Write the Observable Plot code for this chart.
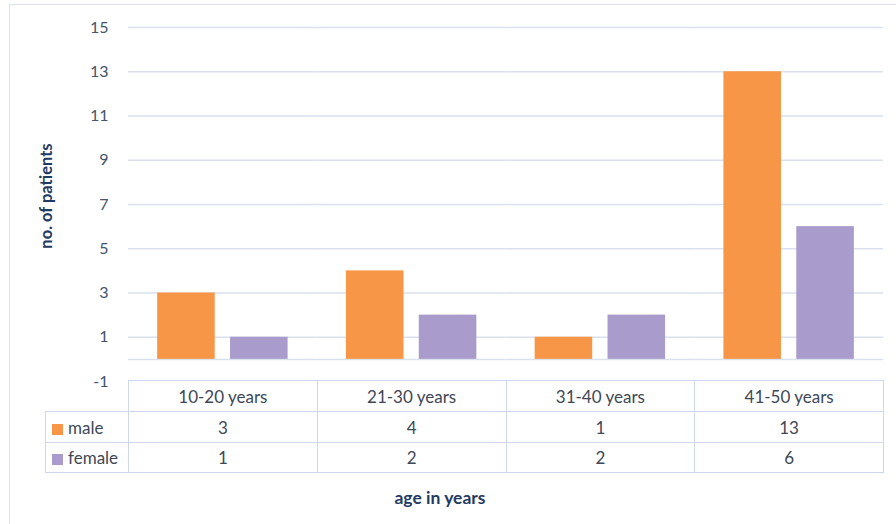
<!DOCTYPE html>
<html>
<head>
<meta charset="utf-8">
<script src="https://cdn.jsdelivr.net/npm/d3@7"></script>
<script src="https://cdn.jsdelivr.net/npm/@observablehq/plot@0.6"></script>
<style>
  html, body { margin: 0; padding: 0; background: #fff; }
  #wrap { position: relative; width: 896px; height: 524px; overflow: hidden; background: #fff; font-family: Lato, "Liberation Sans", sans-serif; }
  #frame { position: absolute; left: 9px; top: 4px; width: 1000px; height: 1000px; border: 1.5px solid #dbe3ee; box-sizing: border-box; }
  #plot { position: absolute; left: 0; top: 0; }
  #ylabel { position: absolute; left: 46px; top: 196px; transform: translate(-50%, -50%) rotate(-90deg); white-space: nowrap; font-weight: bold; font-size: 16.5px; color: #1f3a63; }
  #xlabel { position: absolute; left: 440px; top: 497px; transform: translate(-50%, -50%); white-space: nowrap; font-weight: bold; font-size: 17.5px; color: #1f3a63; }
  #table { position: absolute; left: 45px; top: 380px; border-collapse: collapse; table-layout: fixed; font-size: 17px; color: #3e4756; }
  #table td { border: 1px solid #cdd8ea; text-align: center; padding: 0; }
  #table td.lbl { text-align: left; padding-left: 6px; }
  #table td.blank { border-top: none; border-left: none; }
  .sw { display: inline-block; width: 11px; height: 11px; margin-right: 5px; vertical-align: -1px; }
</style>
</head>
<body>
<div id="wrap">
  <div id="frame"></div>
  <div id="plot"></div>
  <div id="ylabel"></div>
  <table id="table"></table>
  <div id="xlabel"></div>
</div>
<script>
const categories = ["10-20 years", "21-30 years", "31-40 years", "41-50 years"];
const series = ["male", "female"];
const maleValues = [3, 4, 1, 13];
const femaleValues = [1, 2, 2, 6];
const yTicks = [-1, 1, 3, 5, 7, 9, 11, 13, 15];
const colors = ["#F79646", "#A99BCB"];
const yTitle = "no. of patients";
const xTitle = "age in years";

const seriesValues = {male: maleValues, female: femaleValues};
const data = categories.flatMap((c, i) => series.map(s => ({cat: c, sex: s, value: seriesValues[s][i]})));

const chart = Plot.plot({
  width: 896,
  height: 524,
  marginLeft: 128,
  marginRight: 13,
  marginTop: 27,
  marginBottom: 143,
  style: {fontFamily: "Lato, 'Liberation Sans', sans-serif", fontSize: "16px", color: "#44546a", background: "transparent"},
  fx: {domain: categories, axis: null, paddingInner: 0, paddingOuter: 0, label: null, round: false},
  x: {domain: series, axis: null, paddingInner: 0.21, paddingOuter: 0.4, round: false},
  y: {domain: [-1, 15], ticks: yTicks, tickSize: 0, tickPadding: 20, label: null, tickFormat: d => `${d}`},
  color: {domain: series, range: colors},
  marks: [
    Plot.ruleY(yTicks.filter(d => d > -1), {stroke: "#d9e1ee", strokeWidth: 1.5}),
    Plot.ruleY([0], {stroke: "#d9e1ee", strokeWidth: 1.5}),
    Plot.barY(data, {fx: "cat", x: "sex", y: "value", fill: "sex"})
  ]
});
document.getElementById("plot").appendChild(chart);

document.getElementById("ylabel").textContent = yTitle;
document.getElementById("xlabel").textContent = xTitle;

// data table
const table = document.getElementById("table");
const colgroup = document.createElement("colgroup");
[83, ...categories.map(() => 188.75)].forEach(w => {
  const col = document.createElement("col");
  col.style.width = w + "px";
  colgroup.appendChild(col);
});
table.appendChild(colgroup);
const head = document.createElement("tr");
head.style.height = "31px";
const blank = document.createElement("td");
blank.className = "blank";
head.appendChild(blank);
categories.forEach(c => { const td = document.createElement("td"); td.textContent = c; head.appendChild(td); });
table.appendChild(head);
series.forEach((s, si) => {
  const tr = document.createElement("tr");
  tr.style.height = si === 0 ? "31px" : "30px";
  const lbl = document.createElement("td");
  lbl.className = "lbl";
  const sw = document.createElement("span");
  sw.className = "sw";
  sw.style.background = colors[si];
  lbl.appendChild(sw);
  lbl.appendChild(document.createTextNode(s));
  tr.appendChild(lbl);
  seriesValues[s].forEach(v => { const td = document.createElement("td"); td.textContent = v; tr.appendChild(td); });
  table.appendChild(tr);
});
</script>
</body>
</html>
